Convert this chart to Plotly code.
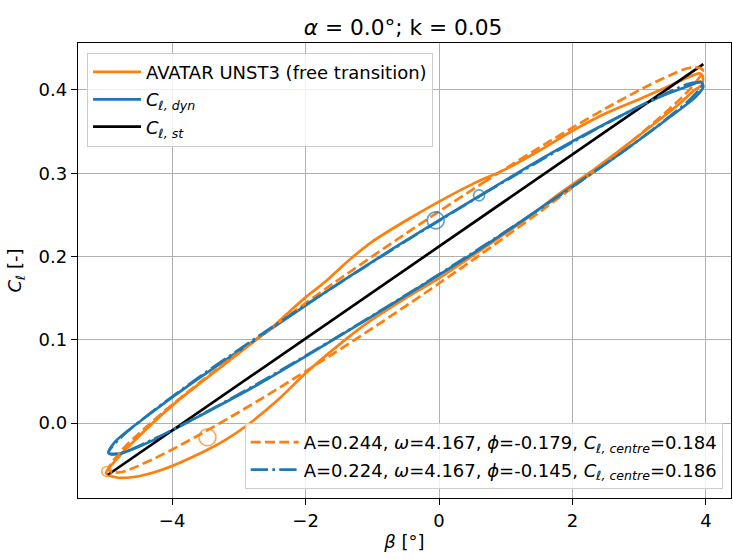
import plotly.graph_objects as go

# ---------------- data ----------------
# AVATAR UNST3 (free transition) loop
beta_avatar = [-4.99, -4.85, -4.5, -4.0, -3.5, -3.0, -2.5, -2.2, -2.0, -1.7, -1.33, -1.0, -0.5,
               0.0, 0.5, 1.0, 1.5, 2.0, 2.5, 3.0, 3.4, 3.7, 3.9, 3.95, 3.94, 3.83, 3.58, 3.33,
               2.83, 2.33, 1.83, 1.3, 0.65, 0.0, -0.5, -1.08, -1.5, -2.0, -2.4, -2.9, -3.2, -3.47,
               -4.15, -4.6, -4.85, -4.99]
cl_avatar = [-0.060, -0.045, -0.016, 0.021, 0.053, 0.084, 0.115, 0.137, 0.151, 0.170, 0.197, 0.218, 0.243,
             0.266, 0.287, 0.305, 0.327, 0.351, 0.372, 0.389, 0.403, 0.414, 0.420, 0.417, 0.406, 0.400, 0.382, 0.366,
             0.335, 0.305, 0.277, 0.245, 0.209, 0.174, 0.150, 0.120, 0.094, 0.060, 0.029, -0.004, -0.020, -0.032,
             -0.056, -0.065, -0.065, -0.060]

# C_l,dyn loop
beta_dyn = [-0.5, 0.65, 1.7, 2.65, 3.35, 3.75, 3.92, 3.96, 3.85, 3.4, 2.65, 1.7, 0.65, -0.5,
            -1.65, -2.7, -3.65, -4.35, -4.8, -4.95, -4.85, -4.35, -3.65, -2.7, -1.65, -0.5]
cl_dyn = [0.219, 0.275, 0.325, 0.366, 0.393, 0.405, 0.410, 0.404, 0.392, 0.364, 0.320, 0.268, 0.211, 0.153,
          0.097, 0.047, 0.006, -0.023, -0.037, -0.036, -0.022, 0.010, 0.051, 0.103, 0.160, 0.219]

# C_l,st (static)
beta_st = [-4.96, 3.96]
cl_st = [-0.062, 0.431]

# sinusoidal fit of AVATAR curve (dashed)
beta_fit_avatar = [-0.5, 0.652, 1.725, 2.647, 3.354, 3.798, 3.95, 3.798, 3.354, 2.647, 1.725, 0.652, -0.5,
                   -1.652, -2.725, -3.647, -4.354, -4.798, -4.95, -4.798, -4.354, -3.647, -2.725, -1.652, -0.5]
cl_fit_avatar = [0.2275, 0.2881, 0.3417, 0.3845, 0.4137, 0.4272, 0.4241, 0.4047, 0.3702, 0.3231, 0.2664, 0.2042, 0.1405,
                 0.0799, 0.0263, -0.0165, -0.0457, -0.0592, -0.0561, -0.0367, -0.0022, 0.0449, 0.1016, 0.1638, 0.2275]

# sinusoidal fit of C_l,dyn (dash-dot)
beta_fit_dyn = [-0.5, 0.652, 1.725, 2.647, 3.354, 3.798, 3.95, 3.798, 3.354, 2.647, 1.725, 0.652, -0.5,
                -1.652, -2.725, -3.647, -4.354, -4.798, -4.95, -4.798, -4.354, -3.647, -2.725, -1.652, -0.5]
cl_fit_dyn = [0.2184, 0.2746, 0.3249, 0.3656, 0.3941, 0.4085, 0.4077, 0.3917, 0.3618, 0.3198, 0.2688, 0.2121, 0.1536,
              0.0974, 0.0471, 0.0064, -0.0221, -0.0365, -0.0356, -0.0197, 0.0102, 0.0522, 0.1032, 0.1599, 0.2184]

# circle markers
beta_mark_avatar = [-3.47, -4.98]
cl_mark_avatar = [-0.017, -0.058]
beta_mark_dyn = [-0.05, 0.60]
cl_mark_dyn = [0.2434, 0.2734]

legend1_names = ["AVATAR UNST3 (free transition)",
                 "<i>C</i><sub><i>ℓ, dyn</i></sub>",
                 "<i>C</i><sub><i>ℓ, st</i></sub>"]
legend2_names = ["A=0.244, <i>ω</i>=4.167, <i>ϕ</i>=-0.179, <i>C</i><sub><i>ℓ, centre</i></sub>=0.184",
                 "A=0.224, <i>ω</i>=4.167, <i>ϕ</i>=-0.145, <i>C</i><sub><i>ℓ, centre</i></sub>=0.186"]
x_ticks = [-4, -2, 0, 2, 4]
x_ticktext = ["−4", "−2", "0", "2", "4"]
y_ticks = [0.0, 0.1, 0.2, 0.3, 0.4]

# ---------------- figure ----------------
ORANGE = "#ff7f0e"
BLUE = "#1f77b4"
FONT = "DejaVu Sans"
FS = 18
LW = 2.7

fig = go.Figure()
fig.add_trace(go.Scatter(x=beta_avatar, y=cl_avatar, mode="lines", name=legend1_names[0],
                         line=dict(color=ORANGE, width=LW, shape="spline", smoothing=0.8),
                         legend="legend", legendgroup="a"))
fig.add_trace(go.Scatter(x=beta_dyn, y=cl_dyn, mode="lines", name=legend1_names[1],
                         line=dict(color=BLUE, width=LW, shape="spline", smoothing=0.8),
                         legend="legend", legendgroup="b"))
fig.add_trace(go.Scatter(x=beta_st, y=cl_st, mode="lines", name=legend1_names[2],
                         line=dict(color="black", width=LW),
                         legend="legend", legendgroup="c"))
fig.add_trace(go.Scatter(x=beta_fit_avatar, y=cl_fit_avatar, mode="lines", name=legend2_names[0],
                         line=dict(color=ORANGE, width=LW, dash="10px,4.3px", shape="spline", smoothing=1),
                         legend="legend2", legendgroup="d"))
fig.add_trace(go.Scatter(x=beta_fit_dyn, y=cl_fit_dyn, mode="lines", name=legend2_names[1],
                         line=dict(color=BLUE, width=LW, dash="17.3px,4.3px,2.7px,4.3px", shape="spline", smoothing=1),
                         legend="legend2", legendgroup="e"))
fig.add_trace(go.Scatter(x=beta_mark_avatar, y=cl_mark_avatar, mode="markers", showlegend=False,
                         marker=dict(symbol="circle-open", size=[17, 10], color=ORANGE, line=dict(width=1.6, color=ORANGE))))
fig.add_trace(go.Scatter(x=beta_mark_dyn, y=cl_mark_dyn, mode="markers", showlegend=False,
                         marker=dict(symbol="circle-open", size=[17, 11], color=BLUE, line=dict(width=1.6, color=BLUE))))

W, H = 733, 559
L, R, T, B = 78, 2, 43, 61

axis_common = dict(showline=True, linecolor="black", linewidth=1.3, mirror=True,
                   showgrid=True, gridcolor="#b0b0b0", gridwidth=1.3, zeroline=False,
                   ticks="outside", ticklen=6, tickwidth=1.3, tickcolor="black",
                   tickfont=dict(size=FS, color="black", family=FONT), automargin=False)

fig.update_layout(
    width=W, height=H,
    margin=dict(l=L, r=R, t=T, b=B),
    plot_bgcolor="white", paper_bgcolor="white",
    font=dict(family=FONT, size=FS, color="black"),
    title=dict(text="<i>α</i> = 0.0°; k = 0.05", x=403 / W, xanchor="center", xref="container",
               y=1 - 27 / H, yanchor="middle", yref="container",
               font=dict(size=21.7, family=FONT, color="black")),
    xaxis=dict(range=[-5.41, 4.375], tickvals=x_ticks, ticktext=x_ticktext,
               title=dict(text="<i>β</i> [°]", standoff=5, font=dict(size=FS, family=FONT)),
               **axis_common),
    yaxis=dict(range=[-0.0899, 0.4564], tickvals=y_ticks, tickformat=".1f",
               title=dict(text="<i>C</i><sub><i>ℓ</i></sub> [-]", standoff=12, font=dict(size=FS, family=FONT)),
               **axis_common),
    legend=dict(x=(87 - L) / (W - L - R), y=1 - (52.7 - T) / (H - T - B), xanchor="left", yanchor="top",
                bgcolor="rgba(255,255,255,0.8)", bordercolor="#cccccc", borderwidth=1,
                font=dict(size=FS, family=FONT, color="black"), itemwidth=48, tracegroupgap=1,
                traceorder="grouped"),
    legend2=dict(x=(722.7 - L) / (W - L - R), y=1 - (489 - T) / (H - T - B), xanchor="right", yanchor="bottom",
                 bgcolor="rgba(255,255,255,0.8)", bordercolor="#cccccc", borderwidth=1,
                 font=dict(size=FS, family=FONT, color="black"), itemwidth=48, tracegroupgap=1,
                 traceorder="grouped"),
    showlegend=True,
)

fig.write_html("out.html")
